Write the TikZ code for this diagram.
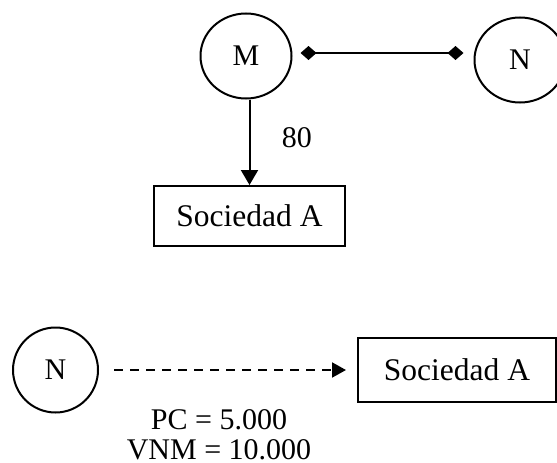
\documentclass[tikz,border=0pt]{standalone}
\usepackage{fontspec}
\setmainfont{Liberation Serif}
\usetikzlibrary{shapes.geometric,arrows.meta}
\begin{document}
\begin{tikzpicture}[x=1pt,y=-1pt,
  font=\fontsize{30}{34}\selectfont,
  entity/.style={ellipse,draw,line width=2pt,minimum width=91pt,minimum height=85pt,inner sep=0pt},
  company/.style={rectangle,draw,line width=2pt,inner sep=0pt,font=\fontsize{31.5}{36}\selectfont},
  link/.style={line width=2pt},
  holding/.style={link,-{Triangle[length=15pt,width=17pt]}},
  joint/.style={link,{Diamond[length=16pt,width=14pt]}-{Diamond[length=16pt,width=14pt]}},
  potential/.style={link,dash pattern=on 9pt off 7pt,-{Triangle[length=14pt,width=15pt]}}]
\useasboundingbox (0,0) rectangle (557,463);

% upper structure: M controls Sociedad A and is linked to N
\node[entity] (M) at (246,56) {M};
\node[entity] (N) at (520,60) {N};
\node[company,minimum width=191pt,minimum height=60pt] (A) at (249.5,216) {Sociedad A};
\draw[holding] (M.south -| A.north) -- (A.north) node[pos=0.45,right=28pt] (p80) {80};
\draw[joint,shorten <=8pt,shorten >=10pt] ([yshift=3pt]M.east) -- ([yshift=3pt]M.east -| N.west);

% lower structure: potential control of N over Sociedad A
\node[entity,minimum width=85pt,minimum height=85pt] (N2) at (55.5,370) {N};
\node[company,minimum width=198pt,minimum height=64pt] (B) at (457,370) {Sociedad A};
\draw[potential,shorten <=15pt,shorten >=11pt] (N2.east) -- (N2.east -| B.west);
\node[inner sep=0pt] (pc) at (219,420) {PC = 5.000};
\node[inner sep=0pt] (vnm) at (219,450) {VNM = 10.000};
\end{tikzpicture}
\end{document}
